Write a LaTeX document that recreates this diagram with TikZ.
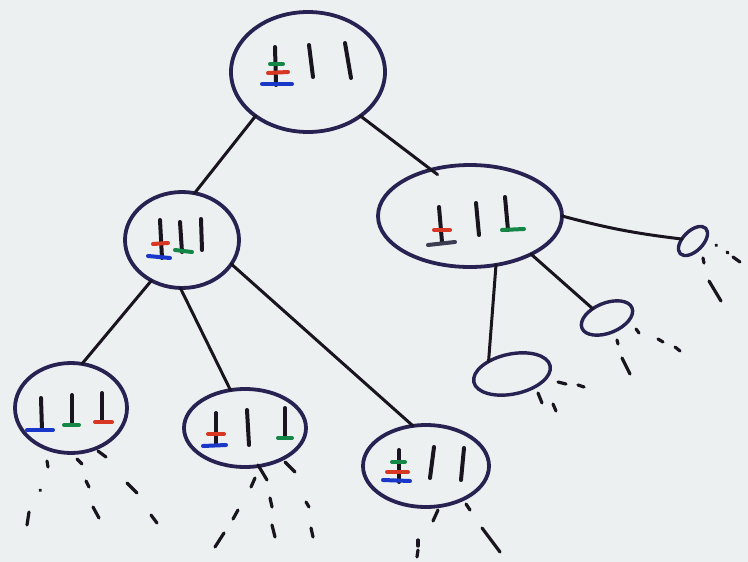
\documentclass[tikz,border=0pt]{standalone}
\usetikzlibrary{shapes.geometric}
\definecolor{ink}{RGB}{40,34,82}
\definecolor{pen}{RGB}{26,20,32}
\definecolor{dblue}{RGB}{25,55,200}
\definecolor{dred}{RGB}{215,55,35}
\definecolor{dgreen}{RGB}{20,135,70}
\definecolor{dgray}{RGB}{60,60,82}
\definecolor{paper}{RGB}{237,240,241}
\begin{document}
\begin{tikzpicture}[x=1pt,y=-1pt,
  state/.style={ellipse,draw=ink,line width=3.8pt,inner sep=0pt,outer sep=0pt},
  link/.style={draw=pen,line width=3pt,line cap=round},
  peg/.style={draw=pen,line width=4pt,line cap=round},
  disk/.style={line width=4pt,line cap=round},
  tick/.style={draw=pen,line width=3.2pt,line cap=round}]
\fill[paper] (0,0) rectangle (748,562);
\useasboundingbox (0,0) rectangle (748,562);

% states
\node[state,minimum width=154pt,minimum height=120pt] (root) at (308,72) {};
\node[state,minimum width=114pt,minimum height=96pt] (ml) at (182,240) {};
\node[state,minimum width=184pt,minimum height=102pt] (mr) at (470,216) {};
\node[state,minimum width=112pt,minimum height=90pt] (bl) at (71,408) {};
\node[state,minimum width=122pt,minimum height=78pt] (bm) at (245,428) {};
\node[state,minimum width=126pt,minimum height=82pt] (br) at (426,466) {};
\node[state,line width=3.4pt,minimum width=36pt,minimum height=20pt,rotate=45] (fs) at (693,241) {};
\node[state,line width=3.4pt,minimum width=54pt,minimum height=30pt,rotate=22] (ms) at (607,318) {};
\node[state,line width=3.4pt,minimum width=78pt,minimum height=40pt,rotate=12] (ls) at (512,374) {};

% links
\draw[link] (root.220) -- (ml.75);
\draw[link,shorten >=-8pt] (root.320) -- (mr.130);
\draw[link] (ml.233) -- (bl.76);
\draw[link] (ml.268) -- (bm.111);
\draw[link] (ml.334) -- (br.108);
\draw[link] (mr.0) to[bend right=4] (fs.125);
\draw[link] (mr.328) -- (ms.125);
\draw[link] (mr.298) -- (ls.140);

% root contents
\draw[peg] (275,47) -- (276,85);
\draw[peg] (309,45) -- (313,77);
\draw[peg] (345,43) -- (351,78);
\draw[disk,dgreen] (270,64) -- (283,64);
\draw[disk,dred] (268,73) -- (288,72);
\draw[disk,dblue] (262,84) -- (292,84);

% middle left contents
\draw[peg] (160,220) -- (162,258);
\draw[peg] (180,222) -- (182,252);
\draw[peg] (201,219) -- (202,250);
\draw[disk,dred] (153,244) -- (168,243);
\draw[disk,dblue] (148,256) -- (170,258);
\draw[disk,dgreen] (175,250) -- (192,252);

% middle right contents
\draw[peg] (439,207) -- (442,242);
\draw[peg] (476,203) -- (479,235);
\draw[peg] (505,197) -- (508,230);
\draw[disk,dred] (434,230) -- (450,230);
\draw[disk,dgray] (428,245) -- (455,242);
\draw[disk,dgreen] (502,230) -- (524,229);

% bottom left contents
\draw[peg] (41,398) -- (42,430);
\draw[peg] (72,395) -- (72,425);
\draw[peg] (102,393) -- (102,422);
\draw[disk,dblue] (27,430) -- (53,430);
\draw[disk,dgreen] (64,425) -- (79,425);
\draw[disk,dred] (95,422) -- (112,422);

% bottom middle contents
\draw[peg] (216,413) -- (216,445);
\draw[peg] (247,410) -- (249,445);
\draw[peg] (285,408) -- (285,438);
\draw[disk,dred] (208,434) -- (224,434);
\draw[disk,dblue] (203,446) -- (226,445);
\draw[disk,dgreen] (278,438) -- (292,438);

% bottom right contents
\draw[peg] (399,450) -- (399,482);
\draw[peg] (434,447) -- (430,478);
\draw[peg] (464,448) -- (461,480);
\draw[disk,dgreen] (392,462) -- (405,462);
\draw[disk,dred] (387,472) -- (408,472);
\draw[disk,dblue] (383,480) -- (410,481);

% continuation strokes, bottom left
\draw[tick] (47,461) -- (48,467);
\draw[tick] (77,459) -- (82,464);
\draw[tick] (98,451) -- (106,457);
\draw[tick] (40,490) -- (40.5,490.5);
\draw[tick] (86,481) -- (89,487);
\draw[tick] (127,483) -- (137,493);
\draw[tick] (29,512) -- (27,525);
\draw[tick] (93,507) -- (99,518);
\draw[tick] (151,515) -- (157,523);

% continuation strokes, bottom middle
\draw[tick] (258,465) -- (267,480);
\draw[tick] (285,462) -- (295,472);
\draw[tick] (255,478) -- (251,487);
\draw[tick] (270,498) -- (272,507);
\draw[tick] (306,502) -- (309,507);
\draw[tick] (238,510) -- (233,519);
\draw[tick] (272,525) -- (275,537);
\draw[tick] (311,528) -- (313,537);
\draw[tick] (224,533) -- (215,547);

% continuation strokes, bottom right
\draw[tick] (438,510) -- (433,521);
\draw[tick] (466,504) -- (470,510);
\draw[tick] (418,540) -- (418,546);
\draw[tick] (418,550) -- (417,557);
\draw[tick] (482,528) -- (500,552);

% continuation strokes, lower small state
\draw[tick] (558,382) -- (566,384);
\draw[tick] (578,385) -- (584,387);
\draw[tick] (538,393) -- (542,403);
\draw[tick] (553,404) -- (556,411);

% continuation strokes, middle small state
\draw[tick] (636,329) -- (639,333);
\draw[tick] (658,339) -- (663,342);
\draw[tick] (675,347) -- (680,351);
\draw[tick] (617,340) -- (618,344);
\draw[tick] (622,358) -- (630,374);

% continuation strokes, far small state
\draw[tick] (716,245) -- (716.5,245.5);
\draw[tick] (727,252) -- (728,253);
\draw[tick] (733,257) -- (740,262);
\draw[tick] (703,258) -- (704,263);
\draw[tick] (709,281) -- (721,301);
\end{tikzpicture}
\end{document}
